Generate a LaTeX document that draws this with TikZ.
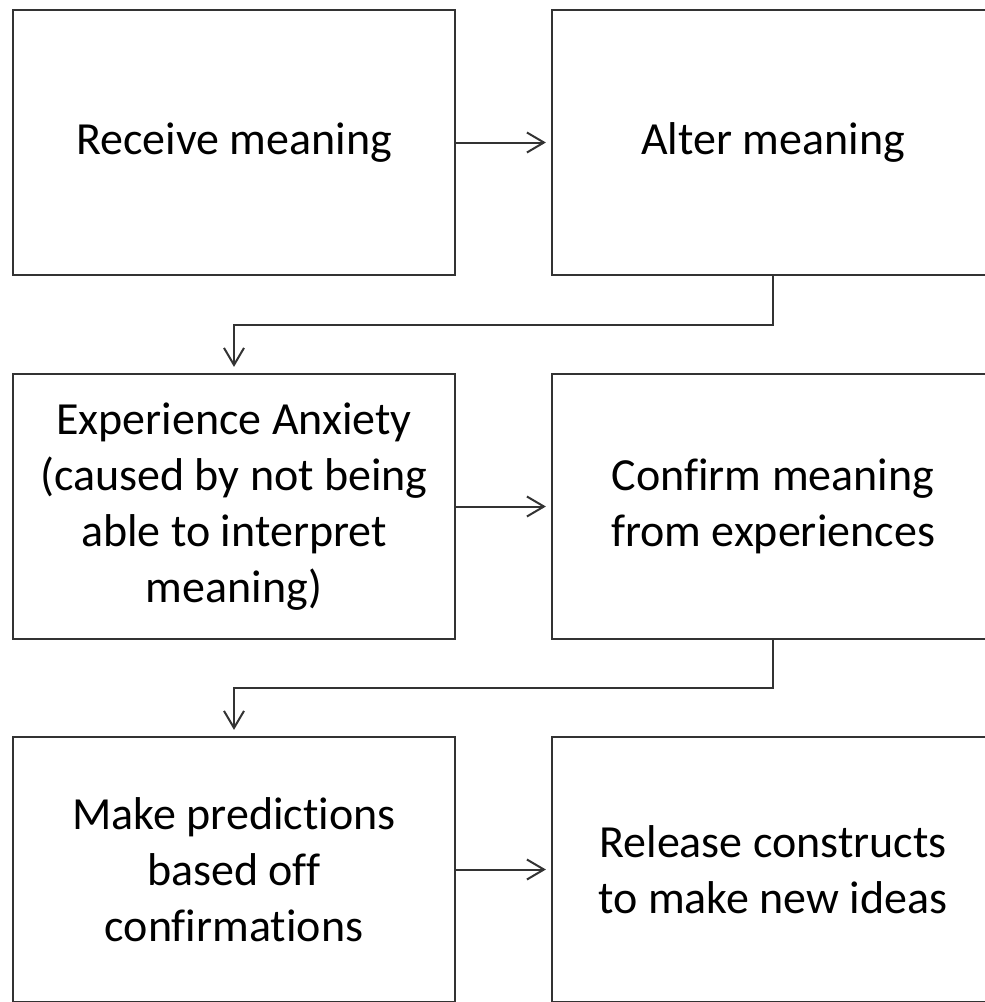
\documentclass[tikz,border=0pt]{standalone}
\usepackage{fontspec}
\setmainfont{Carlito}[Ligatures={NoCommon}]
\usepackage{tikz}
\usetikzlibrary{arrows.meta, positioning, calc}

\begin{document}
\begin{tikzpicture}[x=0.5pt, y=-0.5pt,
                stage box/.style={draw=black!80, line width=1.1pt, rectangle,
                    minimum width=221pt, minimum height=132.5pt, inner sep=0pt,
                    align=center, font=\fontsize{23}{28}\selectfont},
                link/.style={draw=black!80, line width=1pt,
                    -{Straight Barb[length=8.5pt, width=10pt, line width=1pt]}}]
                % Page frame
                \useasboundingbox (0,0) rectangle (985,1002);

                % Top row
                \node[stage box] (receive) at (234,142.5) {Receive meaning};
                \node[stage box] (alter) at (773,142.5) {Alter meaning};

                % Middle row
                \node[stage box] (anxiety) at (234,506.5) {Experience Anxiety\\(caused by not being\\able to interpret\\meaning)};
                \node[stage box] (confirm) at (773,506.5) {Confirm meaning\\from experiences};

                % Bottom row
                \node[stage box] (predict) at (234,869.5) {Make predictions\\based of\kern0ptf\\confirmations};
                \node[stage box] (release) at (773,869.5) {Release constructs\\to make new ideas};

                % Arrows within a row
                \draw[link, shorten >=2.5pt] (receive.east) -- (alter.west);
                \draw[link, shorten >=2.5pt] (anxiety.east) -- (confirm.west);
                \draw[link, shorten >=2.5pt] (predict.east) -- (release.west);

                % Elbow arrows down to the next row
                \draw[link, shorten >=3pt] (alter.south) -- ++(0,49) -| (anxiety.north);
                \draw[link, shorten >=3pt] (confirm.south) -- ++(0,48) -| (predict.north);
            \end{tikzpicture}
\end{document}
